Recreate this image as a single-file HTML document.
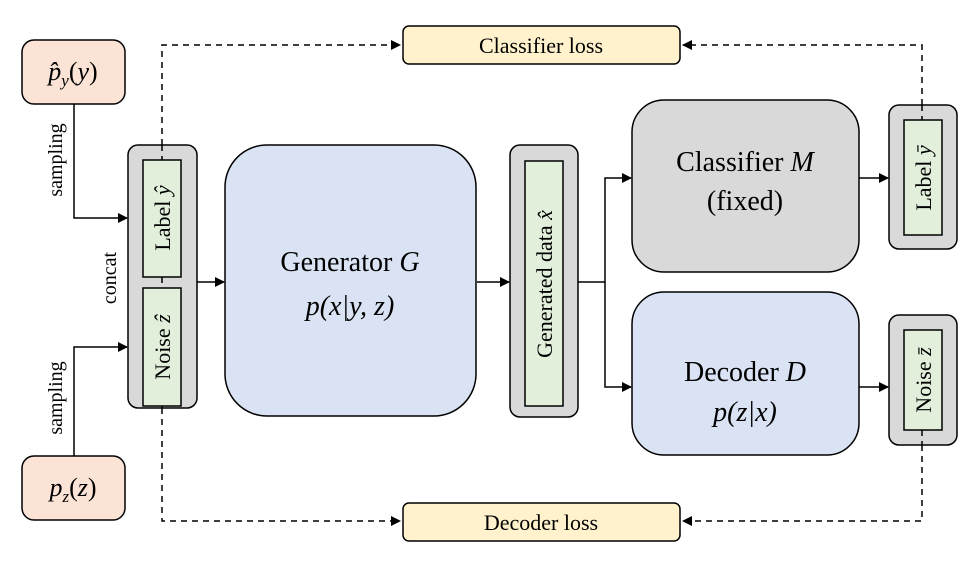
<!DOCTYPE html>
<html><head><meta charset="utf-8"><style>
html,body{margin:0;padding:0;background:#fff;}
svg{display:block;}
text{font-family:"Liberation Serif",serif;fill:#000;}
.it{font-style:italic;}
</style></head><body>
<svg width="979" height="564" viewBox="0 0 979 564" xmlns="http://www.w3.org/2000/svg">
<defs>
<marker id="a" markerWidth="10" markerHeight="10" refX="9" refY="5" orient="auto" markerUnits="userSpaceOnUse">
<path d="M0,0 L10,5 L0,10 z" fill="#000"/></marker>
</defs>
<g stroke="#000" stroke-width="1.5" fill="none" stroke-dasharray="6,5">
<path d="M162,145 V45 H400" marker-end="url(#a)"/>
<path d="M922,105 V45 H683" marker-end="url(#a)"/>
<path d="M162,408 V521 H400" marker-end="url(#a)"/>
<path d="M922,445 V521 H683" marker-end="url(#a)"/>
</g>
<rect x="403" y="26" width="277" height="38" rx="6" fill="#fff2cc" stroke="#000" stroke-width="1.5"/>
<text x="541" y="53" font-size="22" text-anchor="middle">Classifier loss</text>
<rect x="403" y="503" width="277" height="38" rx="6" fill="#fff2cc" stroke="#000" stroke-width="1.5"/>
<text x="541" y="530" font-size="22" text-anchor="middle">Decoder loss</text>
<rect x="22" y="40" width="103" height="64" rx="12" fill="#fbe3d6" stroke="#000" stroke-width="1.5"/>
<text x="73" y="80" font-size="26" text-anchor="middle"><tspan class="it">p̂</tspan><tspan class="it" font-size="17" dy="6">y</tspan><tspan dy="-6">(</tspan><tspan class="it">y</tspan>)</text>
<rect x="22" y="456" width="103" height="64" rx="12" fill="#fbe3d6" stroke="#000" stroke-width="1.5"/>
<text x="73" y="496" font-size="26" text-anchor="middle"><tspan class="it">p</tspan><tspan class="it" font-size="17" dy="6">z</tspan><tspan dy="-6">(</tspan><tspan class="it">z</tspan>)</text>
<g stroke="#000" stroke-width="1.5" fill="none">
<path d="M74,104 V218 H127" marker-end="url(#a)"/>
<path d="M74,456 V347 H127" marker-end="url(#a)"/>
<path d="M197,282 H224" marker-end="url(#a)"/>
<path d="M477,282 H509" marker-end="url(#a)"/>
<path d="M578,282 H605 V178 H631" marker-end="url(#a)"/>
<path d="M605,282 V387 H631" marker-end="url(#a)"/>
<path d="M859,178 H888" marker-end="url(#a)"/>
<path d="M859,387 H888" marker-end="url(#a)"/>
</g>
<text transform="translate(62,160) rotate(-90)" font-size="20" text-anchor="middle">sampling</text>
<text transform="translate(62,398) rotate(-90)" font-size="20" text-anchor="middle">sampling</text>
<text transform="translate(116,278) rotate(-90)" font-size="20" text-anchor="middle">concat</text>
<rect x="128" y="145" width="69" height="263" rx="10" fill="#d9d9d9" stroke="#000" stroke-width="1.5"/>
<rect x="143" y="160" width="38" height="117" fill="#e2efda" stroke="#000" stroke-width="1.5"/>
<rect x="143" y="288" width="38" height="118" fill="#e2efda" stroke="#000" stroke-width="1.5"/>
<text transform="translate(170,218) rotate(-90)" font-size="22" text-anchor="middle">Label <tspan class="it">ŷ</tspan></text>
<text transform="translate(170,347) rotate(-90)" font-size="22" text-anchor="middle">Noise <tspan class="it">ẑ</tspan></text>
<rect x="225" y="145" width="251" height="271" rx="42" fill="#dae3f3" stroke="#000" stroke-width="1.5"/>
<text x="350" y="271" font-size="28" text-anchor="middle">Generator <tspan class="it">G</tspan></text>
<text x="350" y="315" font-size="28" text-anchor="middle" class="it">p(x|y, z)</text>
<rect x="510" y="145" width="68" height="272" rx="10" fill="#d9d9d9" stroke="#000" stroke-width="1.5"/>
<rect x="525" y="161" width="38" height="245" fill="#e2efda" stroke="#000" stroke-width="1.5"/>
<text transform="translate(552,284) rotate(-90)" font-size="22" text-anchor="middle">Generated data <tspan class="it">x̂</tspan></text>
<rect x="632" y="100" width="227" height="172" rx="32" fill="#d9d9d9" stroke="#000" stroke-width="1.5"/>
<text x="745" y="171" font-size="28" text-anchor="middle">Classifier <tspan class="it">M</tspan></text>
<text x="745" y="210" font-size="28" text-anchor="middle">(fixed)</text>
<rect x="632" y="292" width="227" height="163" rx="32" fill="#dae3f3" stroke="#000" stroke-width="1.5"/>
<text x="745" y="381" font-size="28" text-anchor="middle">Decoder <tspan class="it">D</tspan></text>
<text x="745" y="421" font-size="28" text-anchor="middle" class="it">p(z|x)</text>
<rect x="889" y="105" width="68" height="144" rx="10" fill="#d9d9d9" stroke="#000" stroke-width="1.5"/>
<rect x="904" y="120" width="38" height="115" fill="#e2efda" stroke="#000" stroke-width="1.5"/>
<text transform="translate(931,178) rotate(-90)" font-size="22" text-anchor="middle">Label <tspan class="it">ȳ</tspan></text>
<rect x="889" y="315" width="68" height="130" rx="10" fill="#d9d9d9" stroke="#000" stroke-width="1.5"/>
<rect x="904" y="330" width="38" height="100" fill="#e2efda" stroke="#000" stroke-width="1.5"/>
<text transform="translate(931,380) rotate(-90)" font-size="22" text-anchor="middle">Noise <tspan class="it">z̄</tspan></text>
<g stroke="#000" stroke-width="1.5" stroke-dasharray="6,5">
<path d="M162,145 V160 M162,277 V288 M162,406 V408"/>
<path d="M922,105 V120 M922,430 V445"/>
</g>
</svg>
</body></html>
